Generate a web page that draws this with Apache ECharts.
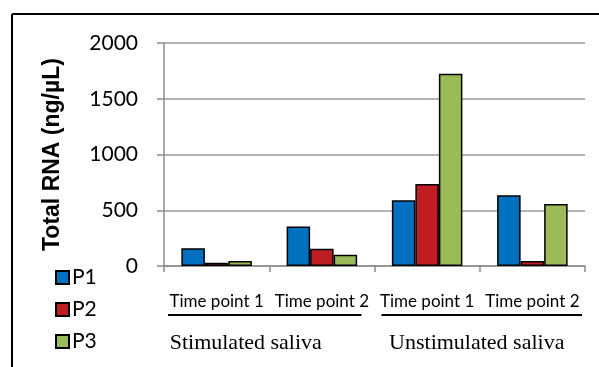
<!DOCTYPE html>
<html>
<head>
<meta charset="utf-8">
<script src="https://cdn.jsdelivr.net/npm/echarts@6/dist/echarts.min.js"></script>
<style>
  html, body { margin: 0; padding: 0; background: #fff; }
  #chart { width: 599px; height: 367px; }
</style>
</head>
<body>
<div id="chart"></div>
<script>
// Total RNA yield per participant, by saliva type and time point
const categories = ['Time point 1', 'Time point 2', 'Time point 1', 'Time point 2'];
const groups = ['Stimulated saliva', 'Unstimulated saliva'];
const seriesNames = ['P1', 'P2', 'P3'];
const p1 = [160, 355, 590, 635];
const p2 = [30, 155, 735, 45];
const p3 = [45, 100, 1725, 555];
const yTicks = { min: 0, max: 2000, interval: 500 };

const colors = ['#0070C0', '#BE1E23', '#9BBB59'];
const sansFont = 'Lato';

const chart = echarts.init(document.getElementById('chart'), null, { renderer: 'canvas' });

const barStyle = (c) => ({ color: c, borderColor: '#000', borderWidth: 1.5 });

chart.setOption({
  animation: false,
  backgroundColor: '#fff',
  grid: { left: 164, right: 14, top: 43, bottom: 101 },
  legend: {
    orient: 'vertical',
    left: 50,
    top: 262,
    height: 120,
    itemWidth: 13,
    itemHeight: 13,
    itemGap: 11,
    icon: 'rect',
    data: seriesNames,
    textStyle: { fontFamily: sansFont, fontSize: 21, color: '#000', padding: [0, 0, 0, -2] }
  },
  xAxis: {
    type: 'category',
    data: categories,
    axisLine: { lineStyle: { color: '#8c8c8c', width: 1.5 } },
    axisTick: { show: true, length: 6, lineStyle: { color: '#8c8c8c', width: 1.5 } },
    axisLabel: { fontFamily: sansFont, fontSize: 17, color: '#000', margin: 27, interval: 0 }
  },
  yAxis: {
    type: 'value',
    min: yTicks.min,
    max: yTicks.max,
    interval: yTicks.interval,
    name: 'Total RNA (ng/\u00B5L)',
    nameLocation: 'middle',
    nameGap: 100,
    nameTextStyle: { fontFamily: 'Liberation Sans', fontWeight: 'bold', fontSize: 23, color: '#000' },
    axisLine: { show: true, lineStyle: { color: '#8c8c8c', width: 1.5 } },
    axisTick: { show: true, length: 7, lineStyle: { color: '#8c8c8c', width: 1.5 } },
    axisLabel: { fontFamily: sansFont, fontSize: 21, color: '#000', margin: 26, formatter: (v) => String(v) },
    splitLine: { lineStyle: { color: '#9a9a9a', width: 1.5 } }
  },
  series: [
    { name: seriesNames[0], type: 'bar', data: p1, itemStyle: barStyle(colors[0]), barGap: '0%', barCategoryGap: '33%' },
    { name: seriesNames[1], type: 'bar', data: p2, itemStyle: barStyle(colors[1]), barGap: '0%', barCategoryGap: '33%' },
    { name: seriesNames[2], type: 'bar', data: p3, itemStyle: barStyle(colors[2]), barGap: '0%', barCategoryGap: '33%' }
  ]
});

// Group captions with underlines, placed from the category axis
function groupGraphics() {
  const left0 = chart.convertToPixel({ xAxisIndex: 0 }, 0);
  const left1 = chart.convertToPixel({ xAxisIndex: 0 }, 1);
  const step = left1 - left0;
  const els = [];
  for (let g = 0; g < groups.length; g++) {
    const start = chart.convertToPixel({ xAxisIndex: 0 }, g * 2) - step / 2;
    const end = start + 2 * step;
    const x1 = start + (g === 0 ? 4 : 7);
    const x2 = end - (g === 0 ? 13 : 3);
    els.push({
      type: 'line',
      shape: { x1: x1, y1: 315, x2: x2, y2: 315 },
      style: { stroke: '#000', lineWidth: 2.2 }
    });
    els.push({
      type: 'text',
      x: (x1 + x2) / 2 - (g === 0 ? 19 : 5),
      y: 343,
      style: {
        text: groups[g],
        font: '22px "Liberation Serif"',
        fill: '#000',
        align: 'center',
        verticalAlign: 'middle'
      }
    });
  }
  // frame
  els.push({ type: 'line', shape: { x1: 12, y1: 14, x2: 599, y2: 14 }, style: { stroke: '#000', lineWidth: 2 } });
  els.push({ type: 'line', shape: { x1: 12, y1: 14, x2: 12, y2: 367 }, style: { stroke: '#000', lineWidth: 2 } });
  return els;
}

chart.setOption({ graphic: groupGraphics() });
</script>
</body>
</html>
